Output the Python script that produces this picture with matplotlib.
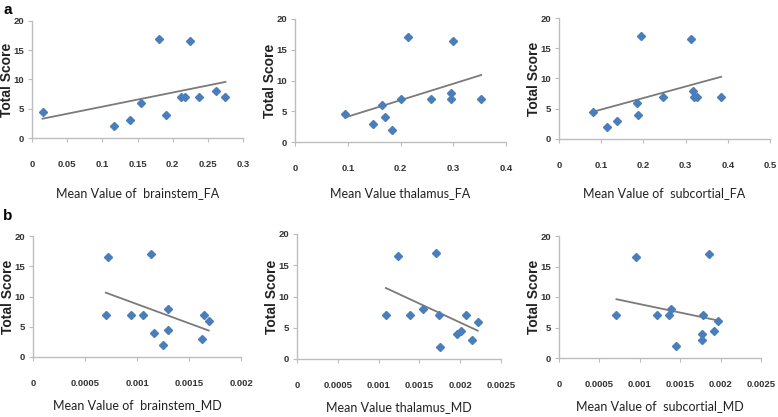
import numpy as np
import matplotlib
matplotlib.use("Agg")
import matplotlib.pyplot as plt

W, H = 778, 417

brainstem_fa_x = [0.015, 0.1165, 0.139, 0.155, 0.180, 0.190, 0.212, 0.217, 0.225, 0.238, 0.261, 0.275]
brainstem_fa_y = [4.5, 2, 3, 6, 17, 4, 7, 7, 16.5, 7, 8, 7]

thalamus_fa_x = [0.095, 0.1485, 0.164, 0.171, 0.183, 0.200, 0.2136, 0.258, 0.296, 0.296, 0.2995, 0.353]
thalamus_fa_y = [4.5, 3, 6, 4, 2, 7, 17, 7, 8, 7, 16.5, 7]

subcortial_fa_x = [0.081, 0.113, 0.137, 0.186, 0.188, 0.195, 0.246, 0.312, 0.318, 0.319, 0.326, 0.384]
subcortial_fa_y = [4.5, 2, 3, 6, 4, 17, 7, 16.5, 8, 7, 7, 7]

brainstem_md_x = [0.000700, 0.000722, 0.000941, 0.001053, 0.001136, 0.001159, 0.001246, 0.001294, 0.001294, 0.001624, 0.001647, 0.001689]
brainstem_md_y = [7, 16.5, 7, 7, 17, 4, 2, 8, 4.5, 3, 7, 6]

thalamus_md_x = [0.001089, 0.001236, 0.001387, 0.001550, 0.001705, 0.001746, 0.001758, 0.001962, 0.002011, 0.002068, 0.002141, 0.002215]
thalamus_md_y = [7, 16.5, 7, 8, 17, 7, 2, 4, 4.5, 7, 3, 6]

subcortial_md_x = [0.000711, 0.000955, 0.001215, 0.001364, 0.001384, 0.001446, 0.001781, 0.001773, 0.001769, 0.001855, 0.001913, 0.001967]
subcortial_md_y = [7, 16.5, 7, 7, 8, 2, 7, 4, 3, 17, 4.5, 6]

fa_ticks = [[0, 0.05, 0.1, 0.15, 0.2, 0.25, 0.3], [0, 0.1, 0.2, 0.3, 0.4], [0, 0.1, 0.2, 0.3, 0.4, 0.5]]
fa_ticklabels = [["0", "0.05", "0.1", "0.15", "0.2", "0.25", "0.3"],
                 ["0", "0.1", "0.2", "0.3", "0.4"],
                 ["0", "0.1", "0.2", "0.3", "0.4", "0.5"]]
md_ticks = [[0, 0.0005, 0.001, 0.0015, 0.002], [0, 0.0005, 0.001, 0.0015, 0.002, 0.0025], [0, 0.0005, 0.001, 0.0015, 0.002, 0.0025]]
md_ticklabels = [["0", "0.0005", "0.001", "0.0015", "0.002"],
                 ["0", "0.0005", "0.001", "0.0015", "0.002", "0.0025"],
                 ["0", "0.0005", "0.001", "0.0015", "0.002", "0.0025"]]
y_ticks = [0, 5, 10, 15, 20]

xlabels = ["Mean Value of  brainstem_FA", "Mean Value thalamus_FA", "Mean Value of  subcortial_FA",
           "Mean Value of  brainstem_MD", "Mean Value thalamus_MD", "Mean Value of  subcortial_MD"]

# axes boxes in pixels: left, top, right, bottom
boxes = [(32, 21, 243, 138), (295, 19, 506, 142), (559, 18, 770, 139),
         (33, 236, 241, 357), (297, 234, 501, 359), (559, 236, 761, 358)]
xlabel_y = [193, 193, 193, 405, 407, 406]

series = [(brainstem_fa_x, brainstem_fa_y), (thalamus_fa_x, thalamus_fa_y), (subcortial_fa_x, subcortial_fa_y),
          (brainstem_md_x, brainstem_md_y), (thalamus_md_x, thalamus_md_y), (subcortial_md_x, subcortial_md_y)]
all_ticks = fa_ticks + md_ticks
all_ticklabels = fa_ticklabels + md_ticklabels

arial = ["Liberation Sans", "DejaVu Sans"]
label_font = ["Lato", "DejaVu Sans"]

fig = plt.figure(figsize=(W / 100, H / 100), dpi=100)

for i, (l, t, r, b) in enumerate(boxes):
    ax = fig.add_axes([l / W, 1 - b / H, (r - l) / W, (b - t) / H])
    x, y = series[i]
    ax.plot(x, y, linestyle="none", marker="D", markersize=3.6, color="#4a7ebb", zorder=3)

    # linear trendline over the data range
    k, c = np.polyfit(x, y, 1)
    xs = np.array([min(x), max(x)])
    ax.plot(xs, k * xs + c, color="#7a7a7a", linewidth=1.3, zorder=2)

    ticks = all_ticks[i]
    ax.set_xlim(ticks[0], ticks[-1])
    ax.set_ylim(0, 20)
    ax.set_xticks(ticks)
    ax.set_xticklabels(all_ticklabels[i])
    ax.set_yticks(y_ticks)
    for s in ["top", "right"]:
        ax.spines[s].set_visible(False)
    for s in ["left", "bottom"]:
        ax.spines[s].set_color("#bdbdbd")
        ax.spines[s].set_linewidth(1.0)
    ax.tick_params(axis="x", length=3, color="#bdbdbd", pad=12.5, labelsize=6.8, labelcolor="#333333")
    ax.tick_params(axis="y", length=3, color="#bdbdbd", pad=2.5, labelsize=6.8, labelcolor="#333333")
    for lab in ax.get_xticklabels() + ax.get_yticklabels():
        lab.set_fontfamily(arial)
        lab.set_fontweight("bold")

    fig.text((l - 25) / W, 1 - (t + b) / 2 / H, "Total Score", rotation=90, ha="center", va="center",
             fontsize=10, fontweight="bold", color="#222222", family=arial)
    fig.text((l + r) / 2 / W, 1 - xlabel_y[i] / H, xlabels[i], ha="center", va="center",
             fontsize=9, color="#222222", family=label_font)

fig.text(3 / W, 1 - 10 / H, "a", ha="left", va="center", fontsize=11, fontweight="bold", family=arial)
fig.text(3 / W, 1 - 216 / H, "b", ha="left", va="center", fontsize=11, fontweight="bold", family=arial)

fig.savefig("out.png", dpi=100)
